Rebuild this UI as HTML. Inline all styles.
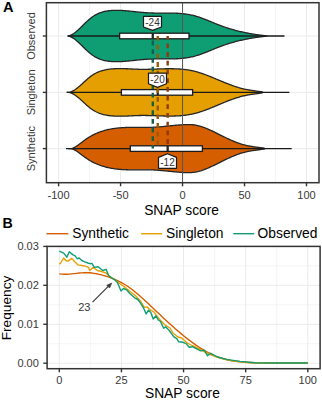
<!DOCTYPE html><html><head><meta charset="utf-8"><style>html,body{margin:0;padding:0;background:#fff;width:322px;height:400px;overflow:hidden}svg{display:block}text{font-family:"Liberation Sans",sans-serif}</style></head><body>
<svg width="322" height="400" viewBox="0 0 322 400">
<rect width="322" height="400" fill="#fff"/>
<line x1="89.59" y1="2.7" x2="89.59" y2="182.7" stroke="#ebebeb" stroke-width="0.5"/>
<line x1="151.56" y1="2.7" x2="151.56" y2="182.7" stroke="#ebebeb" stroke-width="0.5"/>
<line x1="213.54" y1="2.7" x2="213.54" y2="182.7" stroke="#ebebeb" stroke-width="0.5"/>
<line x1="275.51" y1="2.7" x2="275.51" y2="182.7" stroke="#ebebeb" stroke-width="0.5"/>
<line x1="58.6" y1="2.7" x2="58.6" y2="182.7" stroke="#ebebeb" stroke-width="1"/>
<line x1="120.58" y1="2.7" x2="120.58" y2="182.7" stroke="#ebebeb" stroke-width="1"/>
<line x1="182.55" y1="2.7" x2="182.55" y2="182.7" stroke="#ebebeb" stroke-width="1"/>
<line x1="244.53" y1="2.7" x2="244.53" y2="182.7" stroke="#ebebeb" stroke-width="1"/>
<line x1="306.5" y1="2.7" x2="306.5" y2="182.7" stroke="#ebebeb" stroke-width="1"/>
<line x1="46.4" y1="36.0" x2="319.0" y2="36.0" stroke="#ebebeb" stroke-width="1"/>
<line x1="46.4" y1="92.4" x2="319.0" y2="92.4" stroke="#ebebeb" stroke-width="1"/>
<line x1="46.4" y1="148.6" x2="319.0" y2="148.6" stroke="#ebebeb" stroke-width="1"/>
<path d="M67.8,36 L68.8,35.97 L69.79,35.63 L70.79,35.19 L71.78,34.67 L72.78,34.08 L73.78,33.42 L74.77,32.7 L75.77,31.92 L76.76,31.09 L77.76,30.23 L78.76,29.32 L79.75,28.39 L80.75,27.44 L81.74,26.47 L82.74,25.49 L83.74,24.51 L84.73,23.53 L85.73,22.57 L86.72,21.62 L87.72,20.7 L88.72,19.8 L89.71,18.95 L90.71,18.14 L91.7,17.38 L92.7,16.67 L93.7,16.01 L94.69,15.39 L95.69,14.82 L96.68,14.3 L97.68,13.81 L98.68,13.37 L99.67,12.96 L100.67,12.59 L101.66,12.26 L102.66,11.96 L103.66,11.69 L104.65,11.45 L105.65,11.24 L106.64,11.05 L107.64,10.89 L108.64,10.76 L109.63,10.64 L110.63,10.55 L111.62,10.47 L112.62,10.42 L113.62,10.37 L114.61,10.34 L115.61,10.33 L116.6,10.32 L117.6,10.33 L118.59,10.35 L119.59,10.38 L120.59,10.41 L121.58,10.46 L122.58,10.52 L123.57,10.58 L124.57,10.65 L125.57,10.73 L126.56,10.81 L127.56,10.9 L128.55,11 L129.55,11.09 L130.55,11.19 L131.54,11.3 L132.54,11.4 L133.53,11.51 L134.53,11.62 L135.53,11.73 L136.52,11.83 L137.52,11.94 L138.51,12.04 L139.51,12.15 L140.51,12.25 L141.5,12.34 L142.5,12.43 L143.49,12.52 L144.49,12.6 L145.49,12.67 L146.48,12.74 L147.48,12.8 L148.47,12.85 L149.47,12.9 L150.47,12.94 L151.46,12.97 L152.46,13 L153.45,13.02 L154.45,13.03 L155.45,13.04 L156.44,13.05 L157.44,13.06 L158.43,13.06 L159.43,13.06 L160.43,13.06 L161.42,13.05 L162.42,13.05 L163.41,13.04 L164.41,13.04 L165.41,13.04 L166.4,13.04 L167.4,13.04 L168.39,13.04 L169.39,13.05 L170.39,13.06 L171.38,13.07 L172.38,13.09 L173.37,13.12 L174.37,13.15 L175.37,13.18 L176.36,13.23 L177.36,13.27 L178.35,13.33 L179.35,13.4 L180.35,13.47 L181.34,13.56 L182.34,13.65 L183.33,13.75 L184.33,13.87 L185.33,14 L186.32,14.13 L187.32,14.29 L188.31,14.45 L189.31,14.63 L190.31,14.82 L191.3,15.02 L192.3,15.24 L193.29,15.48 L194.29,15.73 L195.29,16 L196.28,16.29 L197.28,16.59 L198.27,16.9 L199.27,17.23 L200.27,17.57 L201.26,17.93 L202.26,18.29 L203.25,18.66 L204.25,19.04 L205.25,19.43 L206.24,19.82 L207.24,20.22 L208.23,20.63 L209.23,21.04 L210.23,21.45 L211.22,21.86 L212.22,22.27 L213.21,22.68 L214.21,23.09 L215.21,23.5 L216.2,23.91 L217.2,24.31 L218.19,24.7 L219.19,25.09 L220.18,25.47 L221.18,25.84 L222.18,26.2 L223.17,26.56 L224.17,26.91 L225.16,27.25 L226.16,27.58 L227.16,27.91 L228.15,28.23 L229.15,28.54 L230.14,28.85 L231.14,29.14 L232.14,29.43 L233.13,29.72 L234.13,29.99 L235.12,30.26 L236.12,30.53 L237.12,30.78 L238.11,31.03 L239.11,31.28 L240.1,31.51 L241.1,31.75 L242.1,31.97 L243.09,32.19 L244.09,32.4 L245.08,32.61 L246.08,32.81 L247.08,33.01 L248.07,33.2 L249.07,33.38 L250.06,33.56 L251.06,33.74 L252.06,33.91 L253.05,34.07 L254.05,34.23 L255.04,34.39 L256.04,34.53 L257.04,34.68 L258.03,34.82 L259.03,34.95 L260.02,35.08 L261.02,35.21 L262.02,35.33 L263.01,35.45 L264.01,35.56 L265,35.67 L266,36 L266,36 L265,36.33 L264.01,36.44 L263.01,36.55 L262.02,36.67 L261.02,36.79 L260.02,36.92 L259.03,37.05 L258.03,37.18 L257.04,37.32 L256.04,37.47 L255.04,37.61 L254.05,37.77 L253.05,37.93 L252.06,38.09 L251.06,38.26 L250.06,38.44 L249.07,38.62 L248.07,38.8 L247.08,38.99 L246.08,39.19 L245.08,39.39 L244.09,39.6 L243.09,39.81 L242.1,40.03 L241.1,40.25 L240.1,40.49 L239.11,40.72 L238.11,40.97 L237.12,41.22 L236.12,41.47 L235.12,41.74 L234.13,42.01 L233.13,42.28 L232.14,42.57 L231.14,42.86 L230.14,43.15 L229.15,43.46 L228.15,43.77 L227.16,44.09 L226.16,44.42 L225.16,44.75 L224.17,45.09 L223.17,45.44 L222.18,45.8 L221.18,46.16 L220.18,46.53 L219.19,46.91 L218.19,47.3 L217.2,47.69 L216.2,48.09 L215.21,48.5 L214.21,48.91 L213.21,49.32 L212.22,49.73 L211.22,50.14 L210.23,50.55 L209.23,50.96 L208.23,51.37 L207.24,51.78 L206.24,52.18 L205.25,52.57 L204.25,52.96 L203.25,53.34 L202.26,53.71 L201.26,54.07 L200.27,54.43 L199.27,54.77 L198.27,55.1 L197.28,55.41 L196.28,55.71 L195.29,56 L194.29,56.27 L193.29,56.52 L192.3,56.76 L191.3,56.98 L190.31,57.18 L189.31,57.37 L188.31,57.55 L187.32,57.71 L186.32,57.87 L185.33,58 L184.33,58.13 L183.33,58.25 L182.34,58.35 L181.34,58.44 L180.35,58.53 L179.35,58.6 L178.35,58.67 L177.36,58.73 L176.36,58.77 L175.37,58.82 L174.37,58.85 L173.37,58.88 L172.38,58.91 L171.38,58.93 L170.39,58.94 L169.39,58.95 L168.39,58.96 L167.4,58.96 L166.4,58.96 L165.41,58.96 L164.41,58.96 L163.41,58.96 L162.42,58.95 L161.42,58.95 L160.43,58.94 L159.43,58.94 L158.43,58.94 L157.44,58.94 L156.44,58.95 L155.45,58.96 L154.45,58.97 L153.45,58.98 L152.46,59 L151.46,59.03 L150.47,59.06 L149.47,59.1 L148.47,59.15 L147.48,59.2 L146.48,59.26 L145.49,59.33 L144.49,59.4 L143.49,59.48 L142.5,59.57 L141.5,59.66 L140.51,59.75 L139.51,59.85 L138.51,59.96 L137.52,60.06 L136.52,60.17 L135.53,60.27 L134.53,60.38 L133.53,60.49 L132.54,60.6 L131.54,60.7 L130.55,60.81 L129.55,60.91 L128.55,61 L127.56,61.1 L126.56,61.19 L125.57,61.27 L124.57,61.35 L123.57,61.42 L122.58,61.48 L121.58,61.54 L120.59,61.59 L119.59,61.62 L118.59,61.65 L117.6,61.67 L116.6,61.68 L115.61,61.67 L114.61,61.66 L113.62,61.63 L112.62,61.58 L111.62,61.53 L110.63,61.45 L109.63,61.36 L108.64,61.24 L107.64,61.11 L106.64,60.95 L105.65,60.76 L104.65,60.55 L103.66,60.31 L102.66,60.04 L101.66,59.74 L100.67,59.41 L99.67,59.04 L98.68,58.63 L97.68,58.19 L96.68,57.7 L95.69,57.18 L94.69,56.61 L93.7,55.99 L92.7,55.33 L91.7,54.62 L90.71,53.86 L89.71,53.05 L88.72,52.2 L87.72,51.3 L86.72,50.38 L85.73,49.43 L84.73,48.47 L83.74,47.49 L82.74,46.51 L81.74,45.53 L80.75,44.56 L79.75,43.61 L78.76,42.68 L77.76,41.77 L76.76,40.91 L75.77,40.08 L74.77,39.3 L73.78,38.58 L72.78,37.92 L71.78,37.33 L70.79,36.81 L69.79,36.37 L68.8,36.03 L67.8,36 Z" fill="#0f9e74" stroke="#262626" stroke-width="1.3"/>
<path d="M67,92.4 L67.98,92.4 L68.97,92.38 L69.95,92.15 L70.94,91.83 L71.92,91.43 L72.91,90.94 L73.89,90.39 L74.88,89.77 L75.86,89.09 L76.85,88.36 L77.83,87.59 L78.82,86.77 L79.8,85.93 L80.79,85.05 L81.77,84.16 L82.76,83.26 L83.74,82.35 L84.73,81.44 L85.71,80.54 L86.7,79.66 L87.68,78.79 L88.67,77.96 L89.65,77.15 L90.64,76.39 L91.62,75.68 L92.61,75.01 L93.59,74.39 L94.58,73.81 L95.56,73.27 L96.55,72.77 L97.53,72.31 L98.52,71.89 L99.5,71.5 L100.49,71.15 L101.47,70.83 L102.46,70.54 L103.44,70.27 L104.43,70.03 L105.41,69.82 L106.4,69.63 L107.38,69.46 L108.37,69.31 L109.35,69.17 L110.34,69.06 L111.32,68.96 L112.31,68.87 L113.29,68.79 L114.28,68.73 L115.26,68.68 L116.25,68.64 L117.23,68.62 L118.22,68.6 L119.2,68.59 L120.19,68.59 L121.17,68.6 L122.16,68.61 L123.14,68.63 L124.13,68.66 L125.11,68.69 L126.1,68.73 L127.08,68.77 L128.07,68.81 L129.05,68.86 L130.04,68.9 L131.02,68.95 L132.01,69 L132.99,69.05 L133.97,69.09 L134.96,69.14 L135.94,69.18 L136.93,69.21 L137.91,69.25 L138.9,69.28 L139.88,69.3 L140.87,69.32 L141.85,69.33 L142.84,69.33 L143.82,69.33 L144.81,69.33 L145.79,69.32 L146.78,69.3 L147.76,69.29 L148.75,69.27 L149.73,69.24 L150.72,69.22 L151.7,69.19 L152.69,69.16 L153.67,69.13 L154.66,69.09 L155.64,69.06 L156.63,69.03 L157.61,68.99 L158.6,68.96 L159.58,68.93 L160.57,68.9 L161.55,68.87 L162.54,68.84 L163.52,68.81 L164.51,68.79 L165.49,68.77 L166.48,68.75 L167.46,68.74 L168.45,68.73 L169.43,68.72 L170.42,68.72 L171.4,68.73 L172.39,68.74 L173.37,68.76 L174.36,68.78 L175.34,68.81 L176.33,68.85 L177.31,68.89 L178.3,68.94 L179.28,69.01 L180.27,69.07 L181.25,69.15 L182.24,69.24 L183.22,69.34 L184.21,69.45 L185.19,69.56 L186.18,69.69 L187.16,69.83 L188.15,69.98 L189.13,70.15 L190.12,70.32 L191.1,70.51 L192.09,70.71 L193.07,70.93 L194.06,71.16 L195.04,71.4 L196.03,71.66 L197.01,71.93 L197.99,72.21 L198.98,72.51 L199.96,72.82 L200.95,73.14 L201.93,73.47 L202.92,73.81 L203.9,74.16 L204.89,74.51 L205.87,74.88 L206.86,75.25 L207.84,75.63 L208.83,76.02 L209.81,76.41 L210.8,76.81 L211.78,77.21 L212.77,77.62 L213.75,78.02 L214.74,78.43 L215.72,78.84 L216.71,79.26 L217.69,79.67 L218.68,80.08 L219.66,80.5 L220.65,80.91 L221.63,81.32 L222.62,81.72 L223.6,82.13 L224.59,82.53 L225.57,82.92 L226.56,83.32 L227.54,83.7 L228.53,84.09 L229.51,84.46 L230.5,84.83 L231.48,85.19 L232.47,85.55 L233.45,85.9 L234.44,86.24 L235.42,86.57 L236.41,86.89 L237.39,87.2 L238.38,87.5 L239.36,87.79 L240.35,88.07 L241.33,88.33 L242.32,88.59 L243.3,88.83 L244.29,89.06 L245.27,89.27 L246.26,89.47 L247.24,89.66 L248.23,89.84 L249.21,90.01 L250.2,90.17 L251.18,90.32 L252.17,90.47 L253.15,90.62 L254.14,90.76 L255.12,90.89 L256.11,91.03 L257.09,91.17 L258.08,91.31 L259.06,91.45 L260.05,91.59 L261.03,91.74 L262.02,91.9 L263,92.4 L263,92.4 L262.02,92.9 L261.03,93.06 L260.05,93.21 L259.06,93.35 L258.08,93.49 L257.09,93.63 L256.11,93.77 L255.12,93.91 L254.14,94.04 L253.15,94.18 L252.17,94.33 L251.18,94.48 L250.2,94.63 L249.21,94.79 L248.23,94.96 L247.24,95.14 L246.26,95.33 L245.27,95.53 L244.29,95.74 L243.3,95.97 L242.32,96.21 L241.33,96.47 L240.35,96.73 L239.36,97.01 L238.38,97.3 L237.39,97.6 L236.41,97.91 L235.42,98.23 L234.44,98.56 L233.45,98.9 L232.47,99.25 L231.48,99.61 L230.5,99.97 L229.51,100.34 L228.53,100.71 L227.54,101.1 L226.56,101.48 L225.57,101.88 L224.59,102.27 L223.6,102.67 L222.62,103.08 L221.63,103.48 L220.65,103.89 L219.66,104.3 L218.68,104.72 L217.69,105.13 L216.71,105.54 L215.72,105.96 L214.74,106.37 L213.75,106.78 L212.77,107.18 L211.78,107.59 L210.8,107.99 L209.81,108.39 L208.83,108.78 L207.84,109.17 L206.86,109.55 L205.87,109.92 L204.89,110.29 L203.9,110.64 L202.92,110.99 L201.93,111.33 L200.95,111.66 L199.96,111.98 L198.98,112.29 L197.99,112.59 L197.01,112.87 L196.03,113.14 L195.04,113.4 L194.06,113.64 L193.07,113.87 L192.09,114.09 L191.1,114.29 L190.12,114.48 L189.13,114.65 L188.15,114.82 L187.16,114.97 L186.18,115.11 L185.19,115.24 L184.21,115.35 L183.22,115.46 L182.24,115.56 L181.25,115.65 L180.27,115.73 L179.28,115.79 L178.3,115.86 L177.31,115.91 L176.33,115.95 L175.34,115.99 L174.36,116.02 L173.37,116.04 L172.39,116.06 L171.4,116.07 L170.42,116.08 L169.43,116.08 L168.45,116.07 L167.46,116.06 L166.48,116.05 L165.49,116.03 L164.51,116.01 L163.52,115.99 L162.54,115.96 L161.55,115.93 L160.57,115.9 L159.58,115.87 L158.6,115.84 L157.61,115.81 L156.63,115.77 L155.64,115.74 L154.66,115.71 L153.67,115.67 L152.69,115.64 L151.7,115.61 L150.72,115.58 L149.73,115.56 L148.75,115.53 L147.76,115.51 L146.78,115.5 L145.79,115.48 L144.81,115.47 L143.82,115.47 L142.84,115.47 L141.85,115.47 L140.87,115.48 L139.88,115.5 L138.9,115.52 L137.91,115.55 L136.93,115.59 L135.94,115.62 L134.96,115.66 L133.97,115.71 L132.99,115.75 L132.01,115.8 L131.02,115.85 L130.04,115.9 L129.05,115.94 L128.07,115.99 L127.08,116.03 L126.1,116.07 L125.11,116.11 L124.13,116.14 L123.14,116.17 L122.16,116.19 L121.17,116.2 L120.19,116.21 L119.2,116.21 L118.22,116.2 L117.23,116.18 L116.25,116.16 L115.26,116.12 L114.28,116.07 L113.29,116.01 L112.31,115.93 L111.32,115.84 L110.34,115.74 L109.35,115.63 L108.37,115.49 L107.38,115.34 L106.4,115.17 L105.41,114.98 L104.43,114.77 L103.44,114.53 L102.46,114.26 L101.47,113.97 L100.49,113.65 L99.5,113.3 L98.52,112.91 L97.53,112.49 L96.55,112.03 L95.56,111.53 L94.58,110.99 L93.59,110.41 L92.61,109.79 L91.62,109.12 L90.64,108.41 L89.65,107.65 L88.67,106.84 L87.68,106.01 L86.7,105.14 L85.71,104.26 L84.73,103.36 L83.74,102.45 L82.76,101.54 L81.77,100.64 L80.79,99.75 L79.8,98.87 L78.82,98.03 L77.83,97.21 L76.85,96.44 L75.86,95.71 L74.88,95.03 L73.89,94.41 L72.91,93.86 L71.92,93.37 L70.94,92.97 L69.95,92.65 L68.97,92.42 L67.98,92.4 L67,92.4 Z" fill="#e69f00" stroke="#262626" stroke-width="1.3"/>
<path d="M68,148.6 L68.99,148.6 L69.98,148.6 L70.97,148.6 L71.96,148.37 L72.95,148.03 L73.94,147.6 L74.93,147.1 L75.92,146.52 L76.91,145.9 L77.9,145.22 L78.89,144.51 L79.88,143.77 L80.87,143.01 L81.86,142.25 L82.85,141.48 L83.84,140.73 L84.83,140 L85.82,139.3 L86.81,138.62 L87.8,137.98 L88.79,137.35 L89.78,136.76 L90.77,136.19 L91.76,135.64 L92.75,135.12 L93.74,134.62 L94.73,134.14 L95.72,133.69 L96.71,133.25 L97.7,132.84 L98.69,132.44 L99.68,132.07 L100.67,131.71 L101.66,131.37 L102.65,131.05 L103.64,130.75 L104.63,130.46 L105.62,130.19 L106.61,129.94 L107.6,129.7 L108.59,129.47 L109.58,129.27 L110.57,129.07 L111.56,128.89 L112.55,128.72 L113.54,128.56 L114.53,128.42 L115.52,128.29 L116.51,128.17 L117.5,128.06 L118.49,127.96 L119.48,127.87 L120.47,127.79 L121.46,127.71 L122.45,127.65 L123.44,127.59 L124.43,127.55 L125.42,127.51 L126.41,127.47 L127.4,127.44 L128.39,127.42 L129.38,127.4 L130.37,127.39 L131.36,127.38 L132.35,127.37 L133.34,127.37 L134.33,127.37 L135.32,127.37 L136.31,127.37 L137.3,127.38 L138.29,127.38 L139.28,127.39 L140.27,127.39 L141.26,127.4 L142.25,127.4 L143.24,127.41 L144.23,127.41 L145.22,127.4 L146.21,127.4 L147.2,127.39 L148.19,127.38 L149.18,127.36 L150.17,127.34 L151.16,127.31 L152.15,127.28 L153.14,127.24 L154.13,127.19 L155.12,127.14 L156.11,127.08 L157.1,127.01 L158.09,126.94 L159.08,126.87 L160.07,126.79 L161.06,126.71 L162.05,126.62 L163.04,126.53 L164.03,126.43 L165.02,126.34 L166.01,126.24 L166.99,126.14 L167.98,126.04 L168.97,125.94 L169.96,125.84 L170.95,125.74 L171.94,125.64 L172.93,125.54 L173.92,125.45 L174.91,125.35 L175.9,125.26 L176.89,125.17 L177.88,125.08 L178.87,125 L179.86,124.92 L180.85,124.85 L181.84,124.78 L182.83,124.72 L183.82,124.66 L184.81,124.62 L185.8,124.58 L186.79,124.56 L187.78,124.54 L188.77,124.55 L189.76,124.57 L190.75,124.61 L191.74,124.67 L192.73,124.76 L193.72,124.87 L194.71,125 L195.7,125.17 L196.69,125.36 L197.68,125.58 L198.67,125.82 L199.66,126.09 L200.65,126.37 L201.64,126.68 L202.63,127.02 L203.62,127.36 L204.61,127.73 L205.6,128.12 L206.59,128.52 L207.58,128.93 L208.57,129.36 L209.56,129.8 L210.55,130.25 L211.54,130.71 L212.53,131.18 L213.52,131.65 L214.51,132.14 L215.5,132.62 L216.49,133.11 L217.48,133.61 L218.47,134.1 L219.46,134.6 L220.45,135.09 L221.44,135.58 L222.43,136.07 L223.42,136.56 L224.41,137.04 L225.4,137.52 L226.39,138 L227.38,138.47 L228.37,138.93 L229.36,139.38 L230.35,139.83 L231.34,140.27 L232.33,140.7 L233.32,141.12 L234.31,141.53 L235.3,141.93 L236.29,142.31 L237.28,142.69 L238.27,143.05 L239.26,143.39 L240.25,143.73 L241.24,144.04 L242.23,144.34 L243.22,144.63 L244.21,144.9 L245.2,145.15 L246.19,145.38 L247.18,145.6 L248.17,145.8 L249.16,145.99 L250.15,146.17 L251.14,146.33 L252.13,146.49 L253.12,146.64 L254.11,146.79 L255.1,146.92 L256.09,147.06 L257.08,147.19 L258.07,147.32 L259.06,147.45 L260.05,147.58 L261.04,147.72 L262.03,147.85 L263.02,148 L264.01,148.15 L265,148.6 L265,148.6 L264.01,149.05 L263.02,149.2 L262.03,149.35 L261.04,149.48 L260.05,149.62 L259.06,149.75 L258.07,149.88 L257.08,150.01 L256.09,150.14 L255.1,150.28 L254.11,150.41 L253.12,150.56 L252.13,150.71 L251.14,150.87 L250.15,151.03 L249.16,151.21 L248.17,151.4 L247.18,151.6 L246.19,151.82 L245.2,152.05 L244.21,152.3 L243.22,152.57 L242.23,152.86 L241.24,153.16 L240.25,153.47 L239.26,153.81 L238.27,154.15 L237.28,154.51 L236.29,154.89 L235.3,155.27 L234.31,155.67 L233.32,156.08 L232.33,156.5 L231.34,156.93 L230.35,157.37 L229.36,157.82 L228.37,158.27 L227.38,158.73 L226.39,159.2 L225.4,159.68 L224.41,160.16 L223.42,160.64 L222.43,161.13 L221.44,161.62 L220.45,162.11 L219.46,162.6 L218.47,163.1 L217.48,163.59 L216.49,164.09 L215.5,164.58 L214.51,165.06 L213.52,165.55 L212.53,166.02 L211.54,166.49 L210.55,166.95 L209.56,167.4 L208.57,167.84 L207.58,168.27 L206.59,168.68 L205.6,169.08 L204.61,169.47 L203.62,169.84 L202.63,170.18 L201.64,170.52 L200.65,170.83 L199.66,171.11 L198.67,171.38 L197.68,171.62 L196.69,171.84 L195.7,172.03 L194.71,172.2 L193.72,172.33 L192.73,172.44 L191.74,172.53 L190.75,172.59 L189.76,172.63 L188.77,172.65 L187.78,172.66 L186.79,172.64 L185.8,172.62 L184.81,172.58 L183.82,172.54 L182.83,172.48 L181.84,172.42 L180.85,172.35 L179.86,172.28 L178.87,172.2 L177.88,172.12 L176.89,172.03 L175.9,171.94 L174.91,171.85 L173.92,171.75 L172.93,171.66 L171.94,171.56 L170.95,171.46 L169.96,171.36 L168.97,171.26 L167.98,171.16 L166.99,171.06 L166.01,170.96 L165.02,170.86 L164.03,170.77 L163.04,170.67 L162.05,170.58 L161.06,170.49 L160.07,170.41 L159.08,170.33 L158.09,170.26 L157.1,170.19 L156.11,170.12 L155.12,170.06 L154.13,170.01 L153.14,169.96 L152.15,169.92 L151.16,169.89 L150.17,169.86 L149.18,169.84 L148.19,169.82 L147.2,169.81 L146.21,169.8 L145.22,169.8 L144.23,169.79 L143.24,169.79 L142.25,169.8 L141.26,169.8 L140.27,169.81 L139.28,169.81 L138.29,169.82 L137.3,169.82 L136.31,169.83 L135.32,169.83 L134.33,169.83 L133.34,169.83 L132.35,169.83 L131.36,169.82 L130.37,169.81 L129.38,169.8 L128.39,169.78 L127.4,169.76 L126.41,169.73 L125.42,169.69 L124.43,169.65 L123.44,169.61 L122.45,169.55 L121.46,169.49 L120.47,169.41 L119.48,169.33 L118.49,169.24 L117.5,169.14 L116.51,169.03 L115.52,168.91 L114.53,168.78 L113.54,168.64 L112.55,168.48 L111.56,168.31 L110.57,168.13 L109.58,167.93 L108.59,167.73 L107.6,167.5 L106.61,167.26 L105.62,167.01 L104.63,166.74 L103.64,166.45 L102.65,166.15 L101.66,165.83 L100.67,165.49 L99.68,165.13 L98.69,164.76 L97.7,164.36 L96.71,163.95 L95.72,163.51 L94.73,163.06 L93.74,162.58 L92.75,162.08 L91.76,161.56 L90.77,161.01 L89.78,160.44 L88.79,159.85 L87.8,159.22 L86.81,158.58 L85.82,157.9 L84.83,157.2 L83.84,156.47 L82.85,155.72 L81.86,154.95 L80.87,154.19 L79.88,153.43 L78.89,152.69 L77.9,151.98 L76.91,151.3 L75.92,150.68 L74.93,150.1 L73.94,149.6 L72.95,149.17 L71.96,148.83 L70.97,148.6 L69.98,148.6 L68.99,148.6 L68,148.6 Z" fill="#d55e00" stroke="#262626" stroke-width="1.3"/>
<line x1="182.55" y1="2.7" x2="182.55" y2="182.7" stroke="#555" stroke-width="1"/>
<line x1="67.5" y1="36.0" x2="119.6" y2="36.0" stroke="#1a1a1a" stroke-width="1.3"/>
<line x1="189.0" y1="36.0" x2="284.5" y2="36.0" stroke="#1a1a1a" stroke-width="1.3"/>
<rect x="119.6" y="33.2" width="69.4" height="5.6" fill="#fff" stroke="#1a1a1a" stroke-width="1.3"/>
<line x1="152.8" y1="33.5" x2="152.8" y2="38.5" stroke="#1a1a1a" stroke-width="2.2"/>
<line x1="66.5" y1="92.4" x2="121.4" y2="92.4" stroke="#1a1a1a" stroke-width="1.3"/>
<line x1="192.6" y1="92.4" x2="289.4" y2="92.4" stroke="#1a1a1a" stroke-width="1.3"/>
<rect x="121.4" y="89.6" width="71.2" height="5.6" fill="#fff" stroke="#1a1a1a" stroke-width="1.3"/>
<line x1="157.76" y1="89.9" x2="157.76" y2="94.9" stroke="#1a1a1a" stroke-width="2.2"/>
<line x1="66.0" y1="148.6" x2="130.3" y2="148.6" stroke="#1a1a1a" stroke-width="1.3"/>
<line x1="202.4" y1="148.6" x2="291.7" y2="148.6" stroke="#1a1a1a" stroke-width="1.3"/>
<rect x="130.3" y="145.8" width="72.1" height="5.6" fill="#fff" stroke="#1a1a1a" stroke-width="1.3"/>
<line x1="167.68" y1="146.1" x2="167.68" y2="151.1" stroke="#1a1a1a" stroke-width="2.2"/>
<line x1="152.8" y1="36.0" x2="152.8" y2="148.6" stroke="#12604a" stroke-width="2.4" stroke-dasharray="4.8 3.9" stroke-dashoffset="4.1"/>
<line x1="157.76" y1="36.0" x2="157.76" y2="148.6" stroke="#9a5c06" stroke-width="2.4" stroke-dasharray="4.8 3.9" stroke-dashoffset="0"/>
<line x1="167.68" y1="36.0" x2="167.68" y2="148.6" stroke="#8f3a0c" stroke-width="2.4" stroke-dasharray="4.8 3.9" stroke-dashoffset="1.3"/>
<path d="M143.5,16.4 L161.5,16.4 L161.5,27 L152.5,30.4 L143.5,27 Z" fill="#fff" stroke="#1a1a1a" stroke-width="1.2" stroke-linejoin="round"/>
<text x="152.5" y="25.9" font-size="10" fill="#333" text-anchor="middle">-24</text>
<path d="M148.5,73.2 L166.5,73.2 L166.5,83.7 L157.5,87.4 L148.5,83.7 Z" fill="#fff" stroke="#1a1a1a" stroke-width="1.2" stroke-linejoin="round"/>
<text x="157.5" y="82.7" font-size="10" fill="#333" text-anchor="middle">-20</text>
<path d="M167.5,153.7 L176.5,157.4 L176.5,168.3 L158.5,168.3 L158.5,157.4 Z" fill="#fff" stroke="#1a1a1a" stroke-width="1.2" stroke-linejoin="round"/>
<text x="167.5" y="166.1" font-size="10" fill="#333" text-anchor="middle">-12</text>
<rect x="46.4" y="2.7" width="272.6" height="180" fill="none" stroke="#333333" stroke-width="1.5"/>
<line x1="58.6" y1="182.7" x2="58.6" y2="186.29999999999998" stroke="#333333" stroke-width="1.4"/>
<text x="58.6" y="198.8" font-size="11" fill="#383838" text-anchor="middle">-100</text>
<line x1="120.58" y1="182.7" x2="120.58" y2="186.29999999999998" stroke="#333333" stroke-width="1.4"/>
<text x="120.58" y="198.8" font-size="11" fill="#383838" text-anchor="middle">-50</text>
<line x1="182.55" y1="182.7" x2="182.55" y2="186.29999999999998" stroke="#333333" stroke-width="1.4"/>
<text x="182.55" y="198.8" font-size="11" fill="#383838" text-anchor="middle">0</text>
<line x1="244.53" y1="182.7" x2="244.53" y2="186.29999999999998" stroke="#333333" stroke-width="1.4"/>
<text x="244.53" y="198.8" font-size="11" fill="#383838" text-anchor="middle">50</text>
<line x1="306.5" y1="182.7" x2="306.5" y2="186.29999999999998" stroke="#333333" stroke-width="1.4"/>
<text x="306.5" y="198.8" font-size="11" fill="#383838" text-anchor="middle">100</text>
<line x1="42.8" y1="36.0" x2="46.4" y2="36.0" stroke="#333333" stroke-width="1.4"/>
<text transform="translate(35.2,36.0) rotate(-90)" font-size="11" fill="#383838" text-anchor="middle">Observed</text>
<line x1="42.8" y1="92.4" x2="46.4" y2="92.4" stroke="#333333" stroke-width="1.4"/>
<text transform="translate(35.2,92.4) rotate(-90)" font-size="11" fill="#383838" text-anchor="middle">Singleton</text>
<line x1="42.8" y1="148.6" x2="46.4" y2="148.6" stroke="#333333" stroke-width="1.4"/>
<text transform="translate(35.2,148.6) rotate(-90)" font-size="11" fill="#383838" text-anchor="middle">Synthetic</text>
<text x="181.6" y="215.2" font-size="13.8" fill="#000" text-anchor="middle">SNAP score</text>
<text x="3" y="11.8" font-size="14.6" font-weight="bold" fill="#000">A</text>
<line x1="90.36" y1="246.4" x2="90.36" y2="368.7" stroke="#ebebeb" stroke-width="0.5"/>
<line x1="152.49" y1="246.4" x2="152.49" y2="368.7" stroke="#ebebeb" stroke-width="0.5"/>
<line x1="214.61" y1="246.4" x2="214.61" y2="368.7" stroke="#ebebeb" stroke-width="0.5"/>
<line x1="276.74" y1="246.4" x2="276.74" y2="368.7" stroke="#ebebeb" stroke-width="0.5"/>
<line x1="47.1" y1="343.73" x2="320.1" y2="343.73" stroke="#ebebeb" stroke-width="0.5"/>
<line x1="47.1" y1="304.8" x2="320.1" y2="304.8" stroke="#ebebeb" stroke-width="0.5"/>
<line x1="47.1" y1="265.87" x2="320.1" y2="265.87" stroke="#ebebeb" stroke-width="0.5"/>
<line x1="59.3" y1="246.4" x2="59.3" y2="368.7" stroke="#ebebeb" stroke-width="1"/>
<line x1="121.42" y1="246.4" x2="121.42" y2="368.7" stroke="#ebebeb" stroke-width="1"/>
<line x1="183.55" y1="246.4" x2="183.55" y2="368.7" stroke="#ebebeb" stroke-width="1"/>
<line x1="245.68" y1="246.4" x2="245.68" y2="368.7" stroke="#ebebeb" stroke-width="1"/>
<line x1="307.8" y1="246.4" x2="307.8" y2="368.7" stroke="#ebebeb" stroke-width="1"/>
<line x1="47.1" y1="363.2" x2="320.1" y2="363.2" stroke="#ebebeb" stroke-width="1"/>
<line x1="47.1" y1="324.27" x2="320.1" y2="324.27" stroke="#ebebeb" stroke-width="1"/>
<line x1="47.1" y1="285.33" x2="320.1" y2="285.33" stroke="#ebebeb" stroke-width="1"/>
<line x1="47.1" y1="246.4" x2="320.1" y2="246.4" stroke="#ebebeb" stroke-width="1"/>
<polyline points="59.3,273.83 61.78,274.16 64.27,274.3 66.75,274.28 69.24,274.14 71.72,273.91 74.21,273.63 76.69,273.34 79.18,273.06 81.66,272.84 84.15,272.7 86.63,272.69 89.12,272.8 91.6,273.03 94.09,273.37 96.57,273.8 99.06,274.32 101.54,274.92 104.03,275.59 106.51,276.32 109,277.14 111.48,278.03 113.97,279.01 116.45,280.09 118.94,281.28 121.42,282.58 123.91,283.99 126.39,285.53 128.88,287.2 131.37,289 133.85,290.92 136.33,292.93 138.82,295.04 141.31,297.22 143.79,299.46 146.27,301.75 148.76,304.08 151.25,306.43 153.73,308.8 156.21,311.16 158.7,313.51 161.19,315.86 163.67,318.18 166.15,320.48 168.64,322.76 171.12,325.01 173.61,327.23 176.09,329.41 178.58,331.55 181.06,333.64 183.55,335.69 186.03,337.68 188.52,339.62 191,341.5 193.49,343.31 195.97,345.06 198.46,346.73 200.94,348.33 203.43,349.85 205.91,351.29 208.4,352.63 210.88,353.89 213.37,355.05 215.85,356.11 218.34,357.08 220.82,357.96 223.31,358.75 225.8,359.45 228.28,360.08 230.76,360.63 233.25,361.11 235.74,361.2 238.22,361.51 240.7,361.79 243.19,362.04 245.68,362.26 248.16,362.49 250.64,362.69 253.13,362.84 255.62,362.91 258.1,362.94 260.58,362.96 263.07,362.98 265.56,362.99 268.04,363 270.52,363 273.01,363 275.5,363 277.98,363 280.46,363 282.95,363 285.44,363 287.92,363 290.4,363 292.89,363 295.38,363 297.86,363 300.34,363 302.83,363 305.31,363 307.8,363" fill="none" stroke="#d55e00" stroke-width="1.4" stroke-linejoin="round"/>
<polyline points="59.3,264.3 60.6,263 63.7,258 65.6,260.5 68,261.1 71.8,258.4 74.9,261.8 78,264.9 81.7,265.5 85.4,266.1 88.5,267.4 89.8,270.5 92.9,267.4 97.5,270.5 102.4,271.8 106,273 108.6,275.5 111.7,277.5 114.8,279.8 117.3,282 121,284.5 124,286.5 127,289 130,291.5 135,295.3 140.6,301.3 144.3,307.4 147.1,306.9 149,308.8 151.3,310.6 153.6,311.6 156.4,315.3 159.2,319 165,325 170,328 173,333 178,337 181.7,338 183.6,339.8 187.3,343 192,345.5 200,349.5 210,354.5 220,358 232,360.8 245,362.2 260,363 307.8,363" fill="none" stroke="#e69f00" stroke-width="1.4" stroke-linejoin="round"/>
<polyline points="59.3,251.2 63.7,253.1 66.8,257.2 69.3,251.8 73,254.9 74.9,255.6 77.4,258.9 79.2,258 81.7,260.5 84.8,261.8 87.9,263 90,263.7 91.9,263.4 94.3,267.4 98.1,266.8 101.2,269.3 103,270.5 106.1,269.3 108.6,275.5 111.7,278 114.8,279.8 117.3,282.3 121,291 123.5,288.5 126.6,289.8 129.8,293.5 135,298.1 137.8,299.5 140.6,303.2 143.4,307.8 146.2,313.9 148.5,310.2 150.8,312.5 153.2,319 156,315.8 158.3,320 160.5,321.5 163.7,328.2 165.6,326.8 169.3,330.5 173.7,336.7 176.8,338.6 178.6,341.7 183,342.3 186.1,343.6 189.2,347.3 192.3,346.7 197.3,349.2 200.6,350.9 204.3,350.1 207.5,355.8 210.8,353.3 217.4,357 226.7,359.4 239.7,361.4 255,362.8 270,363 307.8,363" fill="none" stroke="#0f9e74" stroke-width="1.4" stroke-linejoin="round"/>
<line x1="92.5" y1="302.2" x2="109" y2="285.7" stroke="#3d3d3d" stroke-width="1.2"/>
<path d="M111.7,283.1 L106.8,285.2 L109.6,288 Z" fill="#3d3d3d" stroke="#3d3d3d" stroke-width="0.7" stroke-linejoin="round"/>
<text x="84.3" y="310.7" font-size="11" fill="#383838" text-anchor="middle">23</text>
<rect x="47.1" y="246.4" width="273" height="122.3" fill="none" stroke="#333333" stroke-width="1.5"/>
<line x1="59.3" y1="368.7" x2="59.3" y2="372.3" stroke="#333333" stroke-width="1.4"/>
<text x="59.3" y="384" font-size="11" fill="#383838" text-anchor="middle">0</text>
<line x1="121.42" y1="368.7" x2="121.42" y2="372.3" stroke="#333333" stroke-width="1.4"/>
<text x="121.42" y="384" font-size="11" fill="#383838" text-anchor="middle">25</text>
<line x1="183.55" y1="368.7" x2="183.55" y2="372.3" stroke="#333333" stroke-width="1.4"/>
<text x="183.55" y="384" font-size="11" fill="#383838" text-anchor="middle">50</text>
<line x1="245.68" y1="368.7" x2="245.68" y2="372.3" stroke="#333333" stroke-width="1.4"/>
<text x="245.68" y="384" font-size="11" fill="#383838" text-anchor="middle">75</text>
<line x1="307.8" y1="368.7" x2="307.8" y2="372.3" stroke="#333333" stroke-width="1.4"/>
<text x="307.8" y="384" font-size="11" fill="#383838" text-anchor="middle">100</text>
<line x1="43.300000000000004" y1="363.2" x2="47.1" y2="363.2" stroke="#333333" stroke-width="1.4"/>
<text x="38.8" y="367" font-size="11" fill="#383838" text-anchor="end">0.00</text>
<line x1="43.300000000000004" y1="324.27" x2="47.1" y2="324.27" stroke="#333333" stroke-width="1.4"/>
<text x="38.8" y="328.07" font-size="11" fill="#383838" text-anchor="end">0.01</text>
<line x1="43.300000000000004" y1="285.33" x2="47.1" y2="285.33" stroke="#333333" stroke-width="1.4"/>
<text x="38.8" y="289.13" font-size="11" fill="#383838" text-anchor="end">0.02</text>
<line x1="43.300000000000004" y1="246.4" x2="47.1" y2="246.4" stroke="#333333" stroke-width="1.4"/>
<text x="38.8" y="250.2" font-size="11" fill="#383838" text-anchor="end">0.03</text>
<text x="182.4" y="398.3" font-size="13.8" fill="#000" text-anchor="middle">SNAP score</text>
<text transform="translate(10.6,308) rotate(-90)" font-size="13.7" fill="#000" text-anchor="middle">Frequency</text>
<text x="2.6" y="228.1" font-size="14.2" font-weight="bold" fill="#000">B</text>
<line x1="46.5" y1="233.7" x2="68.3" y2="233.7" stroke="#d55e00" stroke-width="1.4"/>
<text x="72.2" y="237.8" font-size="13.8" fill="#000">Synthetic</text>
<line x1="141.1" y1="233.7" x2="162.2" y2="233.7" stroke="#e69f00" stroke-width="1.4"/>
<text x="166" y="237.8" font-size="13.8" fill="#000">Singleton</text>
<line x1="233.3" y1="233.7" x2="254.2" y2="233.7" stroke="#0f9e74" stroke-width="1.4"/>
<text x="257.6" y="237.8" font-size="13.8" fill="#000">Observed</text>
</svg></body></html>
